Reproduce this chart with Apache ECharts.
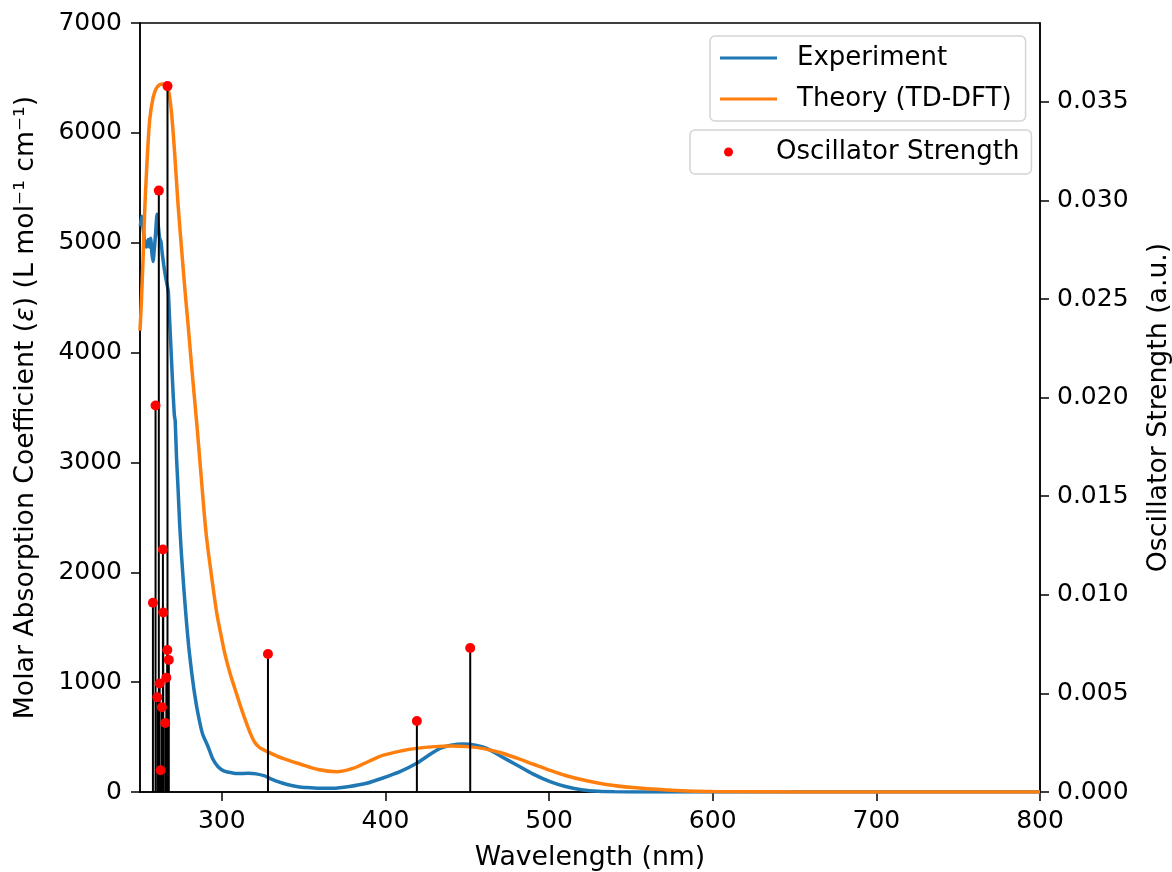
<!DOCTYPE html>
<html>
<head>
<meta charset="utf-8">
<script src="https://cdn.jsdelivr.net/npm/echarts@6/dist/echarts.min.js"></script>
<style>
  html, body { margin: 0; padding: 0; background: #fff; }
  #main { width: 1172px; height: 872px; }
</style>
</head>
<body>
<div id="main"></div>
<script>
var dom = document.getElementById("main");
var myChart = echarts.init(dom);

// experiment spectrum (nm, L mol-1 cm-1)
var expWl = [250.2, 251.0, 252.0, 253.0, 254.0, 255.0, 255.8, 256.5, 257.3, 258.0, 258.8, 259.6, 260.4, 261.2, 262.0,
  262.8, 263.6, 264.5, 265.5, 266.5, 267.3, 268.0, 268.8, 269.6, 270.4, 271.0, 271.5, 272.3, 273.2, 274.2, 275.3,
  276.8, 278.3, 279.8, 281.4, 283.3, 285.4, 288.2, 291.6, 294.5, 297.7, 301.5, 305.8, 310, 316, 321, 326.2, 330,
  334.3, 340, 346.6, 352, 358.8, 368, 378, 388.5, 398, 408.9, 419.1, 426, 433.3, 440, 447.6, 455, 461.9, 470,
  480.2, 490, 500.6, 510, 520.7, 530, 540, 560, 600, 700, 800];
var expAbs = [5150, 5240, 5120, 4990, 4960, 5030, 4960, 5040, 4900, 4830, 4950, 5100, 5260, 5150, 5040,
  5010, 4900, 4800, 4700, 4620, 4560, 4330, 4080, 3820, 3580, 3430, 3380, 3050, 2780, 2450, 2170,
  1850, 1565, 1320, 1110, 900, 716, 530, 412, 300, 230, 190, 176, 168, 170, 165, 146, 120,
  94, 68, 48, 40, 34, 34, 50, 79, 125, 185, 261, 330, 397, 425, 437, 425, 397, 330,
  246, 165, 94, 50, 18, 6, 2, 0, 0, 0, 0];

// TD-DFT spectrum
var theoryWl = [250, 250.8, 252, 252.9, 254, 255.9, 258, 260, 262, 264, 265.5, 267.1, 269.1, 271.2, 273.2,
  275.3, 277.3, 279.3, 281.4, 283.4, 285, 287.5, 290.5, 294.6, 297, 299.7, 302, 305, 308, 311, 314, 317, 320,
  323, 326, 328.2, 334, 340.4, 347.8, 358.8, 370, 380, 390, 398.7, 410, 419, 430, 440, 450, 460, 470, 480,
  490, 500, 510, 521, 535, 551, 572, 585, 600, 650, 700, 800];
var theoryAbs = [4200, 4450, 4900, 5296, 5650, 6115, 6320, 6406, 6438, 6445, 6435, 6406, 6206, 5811, 5357,
  4962, 4598, 4265, 3901, 3567, 3300, 2850, 2340, 1868, 1620, 1413, 1250, 1080, 940, 800, 670, 550, 455,
  405, 380, 365, 325, 291, 255, 205, 185, 215, 280, 335, 375, 397, 413, 419, 413, 395, 360, 310,
  255, 200, 150, 109, 68, 40, 18, 10, 5, 1, 0, 0];

// oscillator strengths
var oscWl = [257.9, 259.5, 260.6, 261.5, 262.0, 262.6, 263.4, 264.0, 264.2, 265.4, 266.1, 266.7, 266.8, 267.6, 328.2, 419.2, 451.8];
var oscF = [0.0096, 0.0196, 0.0048, 0.0305, 0.0055, 0.0011, 0.0043, 0.0123, 0.0091, 0.0035, 0.0058, 0.0072, 0.0358, 0.0067, 0.0070, 0.0036, 0.0073];

var xTicks = [300, 400, 500, 600, 700, 800];
var fTicks = [0, 0.005, 0.010, 0.015, 0.020, 0.025, 0.030, 0.035];

function zip(a, b) {
  return a.map(function (v, i) { return [v, b[i]]; });
}

var font = 'DejaVu Sans';
var fs = 26;
var nfs = 26.7; // axis titles

var option = {
  animation: false,
  backgroundColor: '#fff',
  textStyle: { fontFamily: font },
  grid: {
    left: 140, right: 132, top: 23, bottom: 80,
    containLabel: false, outerBoundsMode: 'none',
    show: true, borderColor: '#000', borderWidth: 1.5
  },
  legend: [
    {
      left: 710, top: 36,
      orient: 'vertical',
      data: [{ name: 'Experiment', icon: 'rect' }, { name: 'Theory (TD-DFT)', icon: 'rect' }],
      itemWidth: 57, itemHeight: 3, itemGap: 13,
      padding: [8, 14, 8, 10],
      borderColor: '#d4d4d4', borderWidth: 1.5, borderRadius: 5,
      backgroundColor: 'rgba(255,255,255,0.8)',
      textStyle: { fontSize: fs, color: '#000', fontFamily: font, lineHeight: 28, padding: [0, 0, 0, 15] }
    },
    {
      left: 690, top: 130,
      data: [{ name: 'Oscillator Strength', icon: 'circle' }],
      itemWidth: 9, itemHeight: 9,
      padding: [8, 12, 8, 34],
      borderColor: '#d4d4d4', borderWidth: 1.5, borderRadius: 5,
      backgroundColor: 'rgba(255,255,255,0.8)',
      textStyle: { fontSize: fs, color: '#000', fontFamily: font, lineHeight: 28, padding: [0, 0, 0, 38] }
    }
  ],
  xAxis: {
    type: 'value', min: 250, max: 800,
    name: 'Wavelength (nm)', nameLocation: 'middle', nameGap: 53,
    nameTextStyle: { fontSize: nfs, color: '#000', fontFamily: font },
    axisLine: { lineStyle: { color: '#000', width: 1.5 } },
    axisTick: { length: 9, lineStyle: { color: '#000', width: 1.5 }, customValues: xTicks },
    axisLabel: { fontSize: fs - 1, color: '#000', margin: 17, customValues: xTicks },
    splitLine: { show: false }
  },
  yAxis: [
    {
      type: 'value', min: 0, max: 7000, interval: 1000,
      name: 'Molar Absorption Coefficient ({i|ε}) (L mol⁻¹ cm⁻¹)',
      nameLocation: 'middle', nameGap: 100, nameRotate: 90,
      nameTextStyle: { fontSize: nfs, color: '#000', fontFamily: font,
        rich: { i: { fontStyle: 'italic', fontSize: nfs, fontFamily: font, color: '#000' } } },
      axisLine: { show: true, lineStyle: { color: '#000', width: 1.5 } },
      axisTick: { show: true, length: 9, lineStyle: { color: '#000', width: 1.5 } },
      axisLabel: { fontSize: fs - 1, color: '#000', margin: 18,
        formatter: function (v) { return String(v); } },
      splitLine: { show: false }
    },
    {
      type: 'value', min: 0, max: 0.039, position: 'right',
      name: 'Oscillator Strength (a.u.)',
      nameLocation: 'middle', nameGap: 106, nameRotate: 90,
      nameTextStyle: { fontSize: nfs, color: '#000', fontFamily: font },
      axisLine: { show: true, lineStyle: { color: '#000', width: 1.5 } },
      axisTick: { show: true, length: 9, lineStyle: { color: '#000', width: 1.5 }, customValues: fTicks },
      axisLabel: { fontSize: fs - 1, color: '#000', margin: 17, customValues: fTicks,
        formatter: function (v) { return v.toFixed(3); } },
      splitLine: { show: false }
    }
  ],
  series: [
    {
      name: 'Experiment', type: 'line', data: zip(expWl, expAbs),
      showSymbol: false, smooth: 0.2, color: '#1f77b4',
      lineStyle: { width: 3.5 }, z: 2
    },
    {
      name: 'Theory (TD-DFT)', type: 'line', data: zip(theoryWl, theoryAbs),
      showSymbol: false, smooth: 0.3, color: '#ff7f0e',
      lineStyle: { width: 3.5 }, z: 3
    },
    {
      name: 'sticks', type: 'custom', yAxisIndex: 1, data: zip(oscWl, oscF),
      encode: { x: 0, y: 1 }, z: 4, silent: true,
      renderItem: function (params, api) {
        var p0 = api.coord([api.value(0), 0]);
        var p1 = api.coord([api.value(0), api.value(1)]);
        return {
          type: 'line',
          shape: { x1: p0[0], y1: p0[1], x2: p1[0], y2: p1[1] },
          style: { stroke: '#000', lineWidth: 2 }
        };
      }
    },
    {
      name: 'Oscillator Strength', type: 'scatter', yAxisIndex: 1, data: zip(oscWl, oscF),
      symbolSize: 10, itemStyle: { color: '#ff0000', opacity: 1 }, z: 5
    }
  ]
};
myChart.setOption(option);
</script>
</body>
</html>
